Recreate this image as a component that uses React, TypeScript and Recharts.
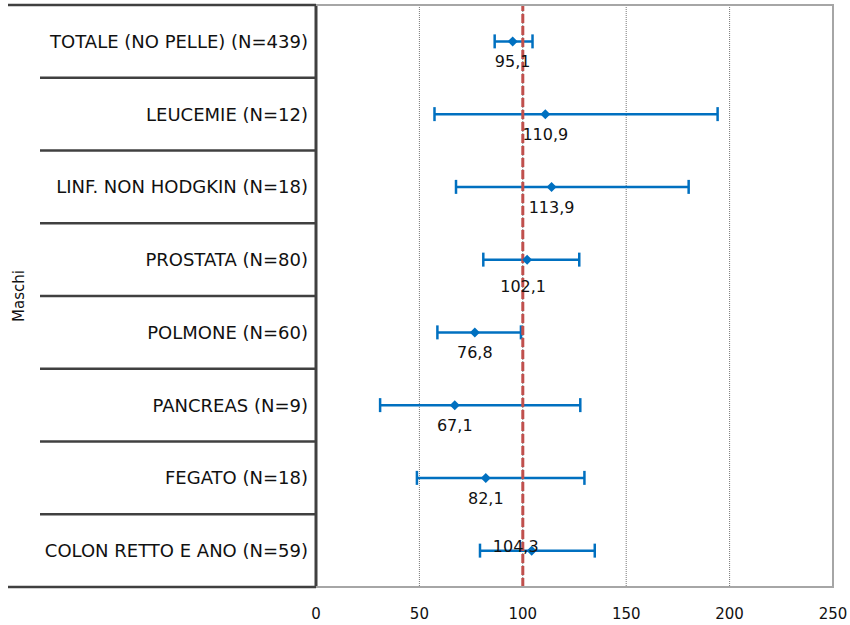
import React from 'react';
import {
  ComposedChart,
  Scatter,
  ErrorBar,
  LabelList,
  XAxis,
  YAxis,
  CartesianGrid,
  ReferenceLine,
} from 'recharts';

const categories = [
  'TOTALE (NO PELLE) (N=439)',
  'LEUCEMIE (N=12)',
  'LINF. NON HODGKIN (N=18)',
  'PROSTATA (N=80)',
  'POLMONE (N=60)',
  'PANCREAS (N=9)',
  'FEGATO (N=18)',
  'COLON RETTO E ANO (N=59)',
];
const sirValues = [95.1, 110.9, 113.9, 102.1, 76.8, 67.1, 82.1, 104.3];
const lowerCI = [86.4, 57.3, 67.7, 80.9, 58.7, 31.0, 48.8, 79.3];
const upperCI = [104.7, 194.2, 180.2, 127.3, 99.1, 127.8, 129.8, 134.8];
const xTicks = [0, 50, 100, 150, 200, 250];
const referenceValue = 100;

const rows = categories.map((name, i) => ({
  name,
  value: sirValues[i],
  ci: [sirValues[i] - lowerCI[i], upperCI[i] - sirValues[i]],
}));

// chart geometry
const W = 850;
const H = 625;
const X_AXIS_H = 30;
const MARGIN = { top: 5, right: 17, bottom: 8, left: 40 };
const AXIS_W = 276;
const PLOT_LEFT = MARGIN.left + AXIS_W;
const PLOT_RIGHT = W - MARGIN.right;
const PLOT_H = H - MARGIN.top - MARGIN.bottom - X_AXIS_H;
const BAND = PLOT_H / categories.length;

const FONT = '"DejaVu Sans", Verdana, sans-serif';
const BLUE = '#0070C0';
const TABLE_LINE = '#404040';
const FRAME = '#a6a6a6';

// a few labels were nudged by hand in the original
const labelNudge: Record<string, [number, number]> = {
  'PROSTATA (N=80)': [-4, 6],
  'COLON RETTO E ANO (N=59)': [-16, -25],
};

const fmt = (v: number) => v.toFixed(1).replace('.', ',');

function CategoryTick(props: any) {
  const { y, payload, index } = props;
  const top = y - BAND / 2;
  const first = index === 0;
  const last = index === categories.length - 1;
  return (
    <g>
      {first && (
        <path
          d={`M${PLOT_LEFT},${top} H${PLOT_RIGHT} V${top + PLOT_H} H${PLOT_LEFT}`}
          fill="none"
          stroke={FRAME}
          strokeWidth={2}
        />
      )}
      <line x1={first ? 8 : MARGIN.left} x2={PLOT_LEFT} y1={top} y2={top} stroke={TABLE_LINE} strokeWidth={2.5} />
      {last && (
        <line x1={8} x2={PLOT_LEFT} y1={y + BAND / 2} y2={y + BAND / 2} stroke={TABLE_LINE} strokeWidth={2.5} />
      )}
      <text x={PLOT_LEFT - 8} y={y} textAnchor="end" dominantBaseline="central" fontSize={18} fontFamily={FONT} fill="#111">
        {payload.value}
      </text>
    </g>
  );
}

function ValueTick(props: any) {
  const { x, y, payload } = props;
  return (
    <text x={x} y={y + 32} textAnchor="middle" fontSize={15} fontFamily={FONT} fill="#111">
      {payload.value}
    </text>
  );
}

function Diamond(props: any) {
  const { cx, cy } = props;
  const r = 5;
  return <polygon points={`${cx},${cy - r} ${cx + r},${cy} ${cx},${cy + r} ${cx - r},${cy}`} fill={BLUE} />;
}

function ValueLabel(props: any) {
  const { x, y, width, height, value, index } = props;
  const cx = x + width / 2;
  const cy = y + height / 2;
  const [dx, dy] = labelNudge[categories[index]] || [0, 0];
  return (
    <text x={cx + dx} y={cy + 26 + dy} textAnchor="middle" fontSize={16} fontFamily={FONT} fill="#111">
      {fmt(value)}
    </text>
  );
}

function SideLabel(props: any) {
  const vb = props.viewBox || {};
  const cy = (vb.y ?? MARGIN.top) + (vb.height ?? PLOT_H) / 2;
  const x = 19;
  return (
    <text x={x} y={cy} transform={`rotate(-90, ${x}, ${cy})`} textAnchor="middle" dominantBaseline="central" fontSize={15} fontFamily={FONT} fill="#111">
      Maschi
    </text>
  );
}

export default function App() {
  return (
    <div style={{ position: 'absolute', left: 0, top: 0, background: '#fff' }}>
      <ComposedChart width={W} height={H} layout="vertical" data={rows} margin={MARGIN}>
        <CartesianGrid horizontal={false} stroke="#777" strokeDasharray="1 1" />
        <XAxis
          type="number"
          dataKey="value"
          domain={[0, 250]}
          ticks={xTicks}
          interval={0}
          height={X_AXIS_H}
          axisLine={false}
          tickLine={false}
          tickSize={0}
          tickMargin={0}
          tick={ValueTick}
        />
        <YAxis
          type="category"
          dataKey="name"
          width={AXIS_W}
          interval={0}
          padding={{ top: BAND / 2, bottom: BAND / 2 }}
          axisLine={{ stroke: TABLE_LINE, strokeWidth: 3 }}
          tickLine={false}
          tickSize={0}
          tickMargin={0}
          tick={CategoryTick}
          label={<SideLabel />}
        />
        <Scatter dataKey="value" shape={Diamond} fill={BLUE} isAnimationActive={false}>
          <ErrorBar dataKey="ci" direction="x" stroke={BLUE} strokeWidth={2.5} width={7} />
          <LabelList dataKey="value" content={ValueLabel} />
        </Scatter>
        <ReferenceLine x={referenceValue} stroke="#C0504D" strokeWidth={3} strokeDasharray="9 3" />
      </ComposedChart>
    </div>
  );
}
